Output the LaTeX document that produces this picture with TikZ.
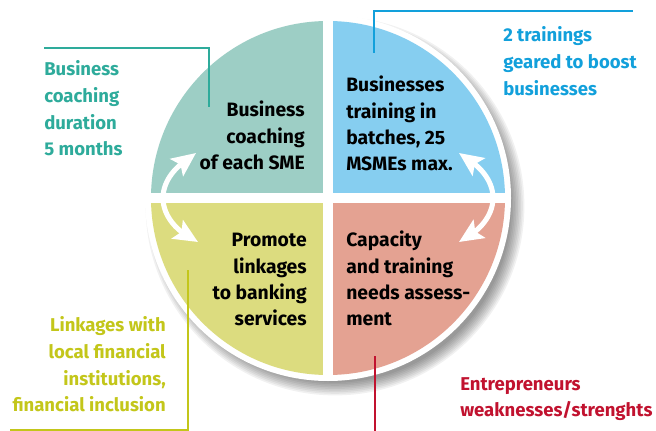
\documentclass[tikz,border=0pt]{standalone}
\usepackage{fontspec}
\setmainfont{Fira Sans}
\usetikzlibrary{arrows.meta,calc}
\definecolor{qteal}{HTML}{9DCEC5}
\definecolor{qblue}{HTML}{86CEF0}
\definecolor{qyellow}{HTML}{DCDC7F}
\definecolor{qsalmon}{HTML}{E4A292}
\definecolor{tteal}{HTML}{2EAB9B}
\definecolor{tblue}{HTML}{12A0DB}
\definecolor{tyellow}{HTML}{C3C61A}
\definecolor{tred}{HTML}{C1122F}
\begin{document}
\begin{tikzpicture}[x=0.75pt,y=0.75pt,
  quadtext/.style={inner sep=0pt,font=\fontsize{14.5}{19.8}\selectfont\bfseries,text=black},
  notetext/.style={inner sep=0pt,font=\fontsize{13.9}{20}\selectfont\bfseries},
  leader/.style={line width=1.6pt},
  cyclearrow/.style={white,line width=3.8pt,
    {Stealth[length=18pt,width=16pt,inset=3.5pt]}-{Stealth[length=18pt,width=16pt,inset=3.5pt]}}]
\useasboundingbox (0,0) rectangle (656,-431);
\coordinate (c) at (328,-198);
% soft drop shadow, offset to the lower right
\foreach \k in {1,...,9}{
  \fill[black,opacity=0.055] (335,-206) circle[radius=175+1.6*\k];
}
% white rim
\fill[white] (c) circle[radius=183];
% four quadrants
\fill[qteal] (c) -- ++(-177,0) arc[start angle=180,end angle=90,radius=177] -- cycle;
\fill[qblue] (c) -- ++(0,177) arc[start angle=90,end angle=0,radius=177] -- cycle;
\fill[qsalmon] (c) -- ++(177,0) arc[start angle=0,end angle=-90,radius=177] -- cycle;
\fill[qyellow] (c) -- ++(0,-177) arc[start angle=-90,end angle=-180,radius=177] -- cycle;
% white cross separating the quadrants
\draw[white,line width=7.5pt] ($(c)+(-183,0)$) -- ($(c)+(183,0)$);
\draw[white,line width=7.5pt] ($(c)+(0,-183)$) -- ($(c)+(0,183)$);
% cycle arrows
\coordinate (la1) at (196,-153);
\coordinate (lam) at (163,-198);
\coordinate (la2) at (198,-242);
\coordinate (ra1) at (459,-153);
\coordinate (ram) at (493,-198);
\coordinate (ra2) at (459,-242);
\draw[cyclearrow] (la1) .. controls (180,-165) and (163,-178) .. (lam)
  .. controls (163,-218) and (180,-231) .. (la2);
\draw[cyclearrow] (ra1) .. controls (476,-165) and (493,-178) .. (ram)
  .. controls (493,-218) and (476,-231) .. (ra2);
% quadrant texts
\node[quadtext,anchor=base east] (tl) at (305,-116.7)
  {\begin{tabular}[t]{@{}r@{}}Business\\coaching\\of each SME\end{tabular}};
\node[quadtext,anchor=base west] (tr) at (346,-91.7)
  {\begin{tabular}[t]{@{}l@{}}Businesses\\training in\\batches, 25\\MSMEs max.\end{tabular}};
\node[quadtext,anchor=base east] (bl) at (307,-246.7)
  {\begin{tabular}[t]{@{}r@{}}Promote\\linkages\\to banking\\services\end{tabular}};
\node[quadtext,anchor=base west] (br) at (346,-246.7)
  {\begin{tabular}[t]{@{}l@{}}Capacity\\and training\\needs assess-\\ment\end{tabular}};
% side notes
\node[notetext,text=tteal,anchor=base west] (nteal) at (44,-76)
  {\begin{tabular}[t]{@{}l@{}}Business\\coaching\\duration\\5 months\end{tabular}};
\node[notetext,text=tblue,anchor=base west] (nblue) at (503,-41.7)
  {\begin{tabular}[t]{@{}l@{}}2 trainings\\geared to boost\\businesses\end{tabular}};
\node[notetext,text=tyellow,anchor=base east] (nyellow) at (166,-331.7)
  {\begin{tabular}[t]{@{}r@{}}Linkages with\\local financial\\institutions,\\financial inclusion\end{tabular}};
\node[notetext,text=tred,anchor=base west] (nred) at (460,-390)
  {\begin{tabular}[t]{@{}l@{}}Entrepreneurs\\weaknesses/strenghts\end{tabular}};
% leader lines
\coordinate (t0) at (44,-48);
\coordinate (t1) at (209,-48);
\coordinate (t2) at (209,-107);
\draw[leader,tteal] (t0) -- (t1) -- (t2);
\coordinate (b0) at (374,-53);
\coordinate (b1) at (374,-11);
\coordinate (b2) at (633,-11);
\draw[leader,tblue] (b0) -- (b1) -- (b2);
\coordinate (y0) at (188,-270);
\coordinate (y1) at (188,-430);
\coordinate (y2) at (10,-430);
\draw[leader,tyellow] (y0) -- (y1) -- (y2);
\coordinate (r0) at (375,-356);
\coordinate (r1) at (375,-431);
\draw[leader,tred] (r0) -- (r1);
\end{tikzpicture}
\end{document}
